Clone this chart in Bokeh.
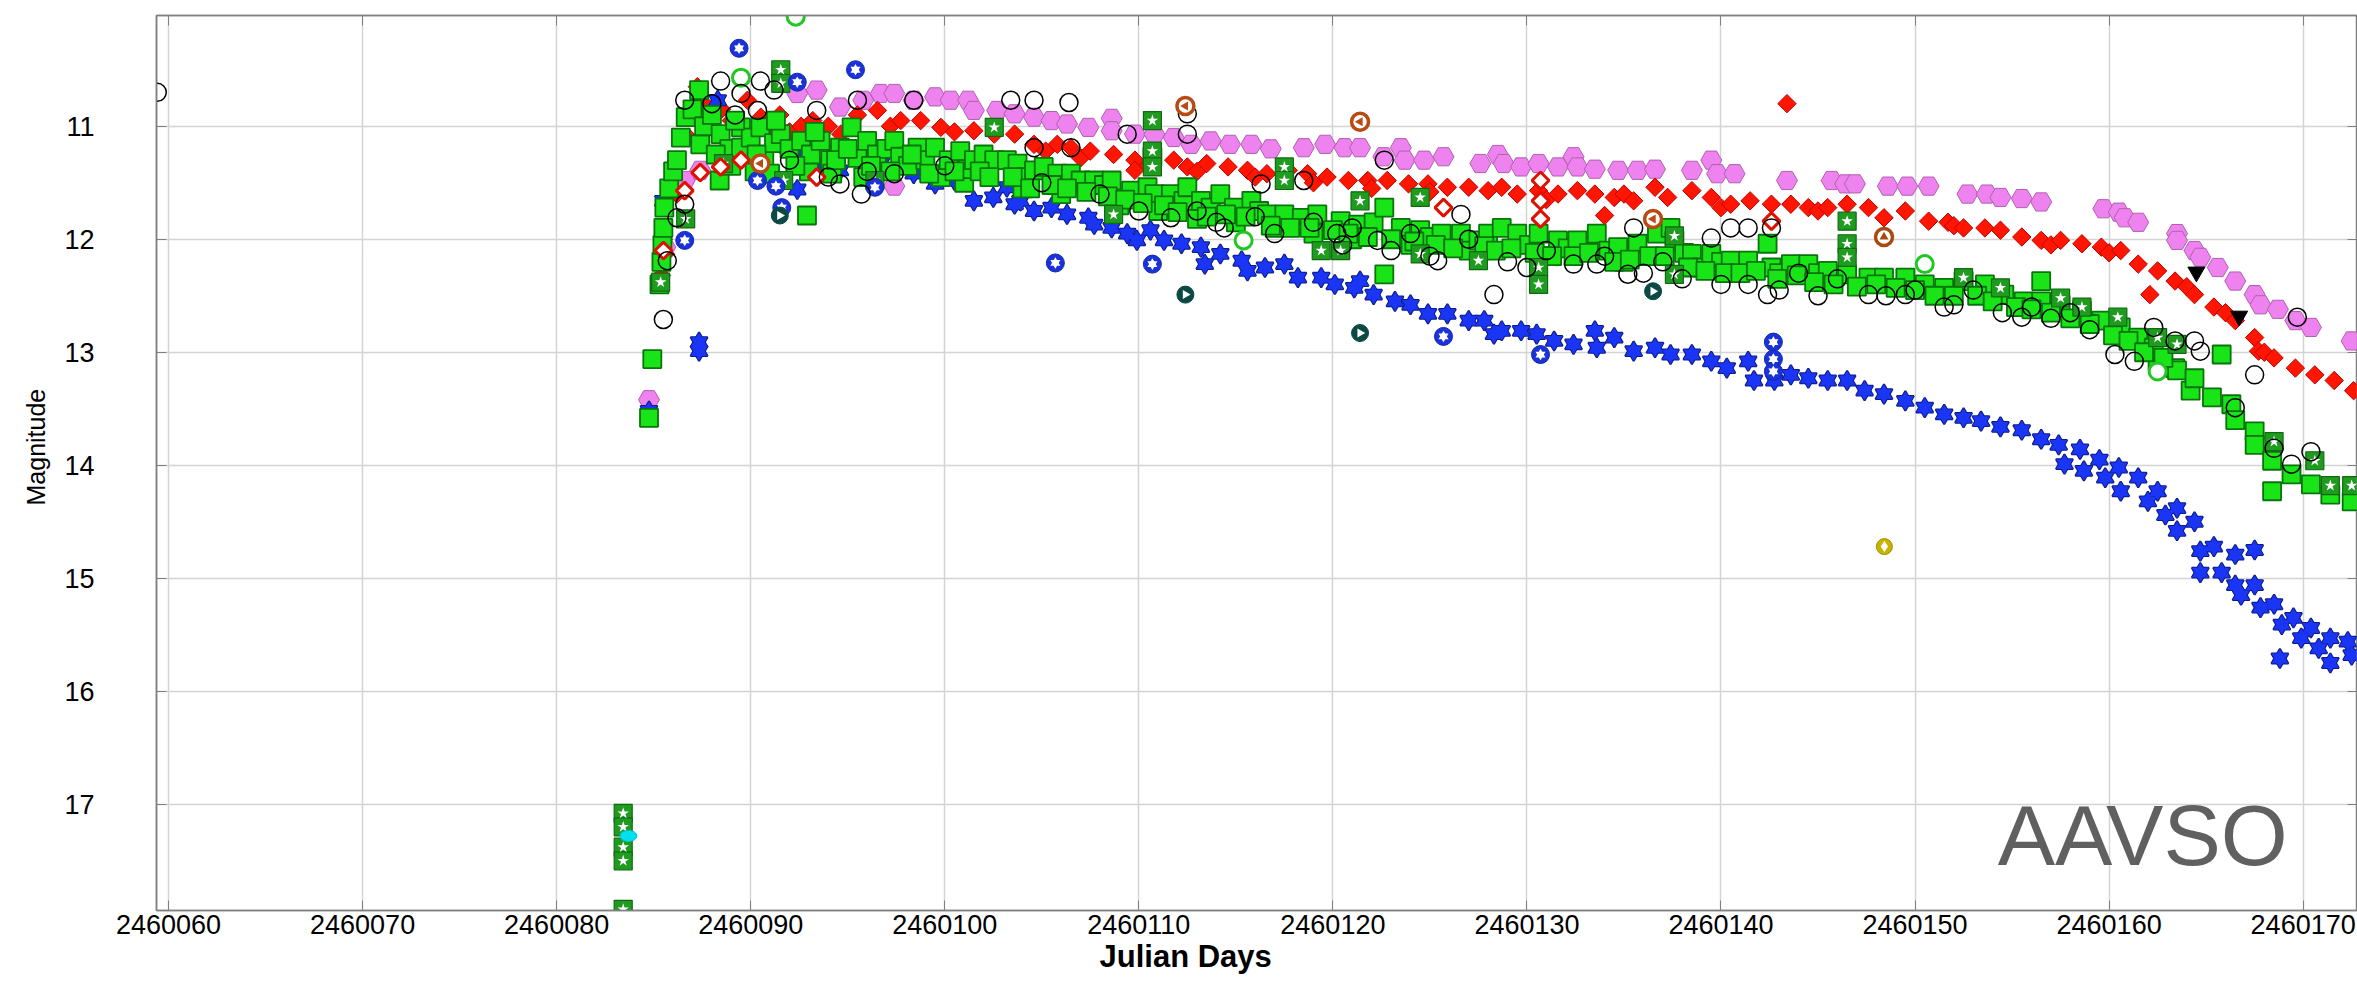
import math
from bokeh.plotting import figure
from bokeh.models import (Range1d, SingleIntervalTicker, LinearAxis, BasicTickFormatter,
                          Label, Title)
from bokeh.embed import file_html
from bokeh.resources import INLINE

JD_BASE = 2460000

# ---- observations: day offsets from JD_BASE and magnitudes, one pair of lists per band ----
# V (filled lime squares)
v_day = [84.76, 84.93, 85.3, 85.4, 85.45, 85.5, 85.55, 85.8, 86.0, 86.2, 86.4, 86.65, 87.0, 87.34, 87.4, 87.6,
         88.0, 88.4, 88.45, 88.9, 89.0, 89.5, 89.5, 90.0, 90.2, 90.5, 90.7, 91.0, 91.2, 91.55, 92.0, 92.6, 92.9,
         93.0, 93.1, 93.6, 94.1, 94.2, 94.6, 95.2, 95.5, 95.8, 96.0, 96.5, 97.0, 97.4, 97.7, 98.1, 98.6, 99.0,
         99.5, 99.8, 100.2, 100.8, 101.0, 101.2, 101.5, 102.0, 102.55, 103.2, 103.75, 104.0, 104.2, 104.6, 105.1,
         105.8, 106.0, 106.5, 107.0, 107.7, 108.2, 108.6, 109.0, 109.6, 110.45, 110.7, 110.8, 111.0, 111.65,
         112.3, 112.5, 113.0, 113.2, 113.7, 114.2, 114.9, 115.0, 115.8, 116.2, 116.6, 117.0, 117.5, 118.4, 119.0,
         119.2, 120.4, 121.0, 121.3, 122.1, 122.65, 122.65, 123.5, 124.0, 124.5, 125.0, 125.6, 126.6, 127.0,
         127.5, 128.0, 128.7, 129.5, 130.1, 130.6, 131.0, 131.6, 132.1, 132.6, 133.6, 134.2, 134.7, 135.0, 135.7,
         136.7, 137.4, 137.6, 138.1, 138.5, 139.0, 139.5, 140.0, 140.5, 141.4, 142.4, 142.6, 143.0, 143.6, 144.5,
         145.0, 145.5, 146.5, 147.6, 148.4, 149.5, 150.5, 151.5, 152.5, 153.6, 154.6, 155.6, 156.5, 156.5, 157.5,
         158.6, 159.6, 160.6, 161.5, 162.3, 162.5, 163.4, 163.5, 164.2, 164.4, 165.3, 165.8, 166.3, 166.5, 167.5,
         167.5, 168.4, 168.4, 169.4, 170.4, 171.4, 172.5,
         88.2, 89.2, 90.3, 91.3, 92.3, 93.3, 94.4, 95.0, 96.2, 97.2, 98.3, 99.2, 100.5, 101.8, 102.3, 103.5, 104.4,
         105.5, 106.3, 107.3, 108.4, 109.3, 110.2, 111.3, 112.0, 113.5, 114.5, 115.5, 116.8, 117.8, 118.8, 120.0,
         120.8, 121.8, 123.0, 124.2, 125.3, 126.2, 127.8, 128.4, 129.2, 130.4, 131.3, 132.4, 133.2, 134.5, 135.3,
         136.3, 137.1, 138.3, 139.2, 140.2, 141.0, 141.8, 142.9, 143.9, 144.8, 145.8, 147.0, 148.0, 149.0, 150.0,
         151.0, 152.0, 153.2, 154.0, 155.2, 156.0, 157.0, 158.0, 159.0, 160.2, 161.0, 161.8, 162.8]
v_mag = [13.58, 13.06, 12.4, 12.2, 12.05, 11.9, 11.72, 11.55, 11.4, 11.3, 11.1, 10.92, 10.85, 10.68, 11.16, 11.0,
         10.9, 11.48, 11.07, 11.2, 11.35, 11.01, 11.19, 11.1, 11.4, 11.01, 11.3, 11.42, 11.15, 11.07, 11.2, 11.13,
         11.79, 11.4, 11.25, 11.13, 11.3, 11.42, 11.19, 11.01, 11.28, 11.45, 11.13, 11.25, 11.2, 11.13, 11.27,
         11.35, 11.19, 11.3, 11.19, 11.45, 11.3, 11.22, 11.5, 11.38, 11.3, 11.25, 11.3, 11.3, 11.33, 11.55, 11.45,
         11.39, 11.36, 11.42, 11.6, 11.42, 11.48, 11.48, 11.52, 11.48, 11.7, 11.57, 11.54, 11.27, 11.6, 11.75,
         11.6, 11.66, 11.54, 11.82, 11.66, 11.72, 11.6, 11.72, 11.85, 11.66, 11.75, 11.78, 11.9, 11.78, 11.81,
         11.95, 11.78, 11.84, 12.0, 11.87, 11.85, 11.72, 12.31, 11.9, 12.05, 11.92, 11.98, 11.95, 11.95, 12.1,
         12.01, 11.95, 11.9, 11.95, 12.05, 11.95, 12.15, 12.01, 12.08, 12.01, 11.95, 12.1, 12.07, 12.2, 12.04,
         11.95, 11.9, 12.01, 12.12, 12.13, 12.25, 12.13, 12.2, 12.19, 12.19, 12.04, 12.25, 12.3, 12.22, 12.22,
         12.3, 12.28, 12.31, 12.34, 12.34, 12.34, 12.4, 12.43, 12.37, 12.4, 12.49, 12.55, 12.37, 12.55, 12.58,
         12.63, 12.72, 12.78, 12.87, 12.96, 13.08, 13.14, 13.16, 13.34, 13.23, 13.4, 13.02, 13.46, 13.6, 13.7,
         13.82, 13.96, 14.23, 14.08, 14.17, 14.26, 14.32,
         11.25, 10.95, 11.25, 10.95, 11.35, 11.05, 11.3, 11.2, 11.35, 11.4, 11.25, 11.42, 11.4, 11.4, 11.45, 11.45,
         11.55, 11.52, 11.55, 11.58, 11.62, 11.65, 11.68, 11.7, 11.76, 11.8, 11.78, 11.8, 11.88, 11.9, 11.9, 11.92,
         11.95, 11.98, 12.0, 12.02, 12.05, 12.08, 12.06, 12.1, 12.08, 12.12, 12.15, 12.15, 12.12, 12.2, 12.18,
         12.15, 12.15, 12.25, 12.28, 12.3, 12.3, 12.28, 12.35, 12.32, 12.38, 12.4, 12.42, 12.4, 12.43, 12.45,
         12.5, 12.5, 12.5, 12.55, 12.6, 12.62, 12.65, 12.7, 12.75, 12.85, 12.9, 13.0, 13.05]

# TG (dark green squares with a white star)
tg_day = [83.43, 83.43, 83.43, 83.43, 83.43, 85.36, 86.65, 88.6, 91.55, 91.55, 91.7, 96.4, 102.55, 108.7, 110.7,
          110.7, 110.7, 117.5, 117.5, 119.4, 120.4, 121.4, 124.5, 124.5, 127.5, 130.6, 130.6, 137.6, 137.6, 146.5,
          146.5, 146.5, 152.5, 154.4, 157.5, 158.6, 160.45, 162.5, 163.5, 168.5, 170.6, 171.4, 172.5]
tg_mag = [17.08, 17.2, 17.38, 17.5, 17.93, 12.38, 11.82, 11.33, 10.5, 10.62, 11.48, 11.48, 11.01, 11.78, 10.95,
          11.22, 11.36, 11.36, 11.48, 12.1, 12.1, 11.66, 11.63, 12.13, 12.19, 12.25, 12.4, 11.97, 12.31, 11.84,
          12.04, 12.16, 12.34, 12.43, 12.52, 12.6, 12.69, 12.87, 12.93, 13.79, 13.96, 14.18, 14.18]

# Vis (open black circles)
vis_day = [59.42, 85.5, 85.7, 86.2, 86.6, 86.6, 88.0, 88.45, 89.2, 89.5, 90.35, 90.5, 91.2, 92.0, 93.4, 94.0,
           94.6, 95.5, 95.7, 96.0, 97.4, 98.4, 100.0, 103.4, 104.6, 104.6, 105.0, 106.4, 106.5, 108.0, 109.4,
           111.65, 112.5, 112.5, 113.0, 114.4, 116.0, 116.3, 118.5, 119.0, 120.2, 121.0, 122.3, 122.65, 124.0,
           125.4, 126.6, 127.0, 128.3, 131.0, 132.4, 133.6, 134.0, 135.2, 135.5, 137.0, 139.5, 140.5, 141.4,
           141.4, 142.4, 142.6, 144.0, 146.0, 147.6, 149.5, 150.0, 151.5, 153.0, 155.5, 156.0, 158.0, 160.3,
           161.3, 162.3, 163.4, 164.4, 164.7, 166.5, 167.5, 168.5, 169.4, 169.7, 170.4,
           110.0, 114.0, 117.0, 120.5, 123.0, 125.0, 129.0, 130.0, 136.0, 138.0, 140.0, 143.0, 145.0, 148.5,
           152.0, 154.5, 157.0, 159.0]
vis_mag = [10.70, 12.71, 12.19, 11.81, 11.69, 10.77, 10.8, 10.6, 10.9, 10.71, 10.86, 10.6, 10.68, 11.3, 10.86,
           11.45, 11.51, 10.77, 11.6, 11.4, 11.42, 10.77, 11.35, 10.77, 10.77, 11.19, 11.5, 10.79, 11.19, 11.6,
           11.07, 11.81, 10.89, 11.07, 11.75, 11.9, 11.8, 11.51, 11.48, 11.85, 11.95, 11.9, 12.01, 11.3, 11.95,
           12.19, 11.78, 12.0, 12.49, 12.1, 12.22, 12.22, 12.15, 12.31, 11.9, 12.2, 11.99, 11.9, 11.9, 12.4,
           12.49, 11.9, 12.3, 12.35, 12.49, 12.49, 12.45, 12.6, 12.45, 12.69, 12.6, 12.65, 13.02, 13.08, 12.78,
           12.9, 12.9, 12.99, 13.49, 13.2, 13.85, 13.99, 12.69, 13.88,
           11.75, 11.85, 11.95, 12.05, 12.1, 12.15, 12.2, 12.25, 12.3, 12.35, 12.4, 12.45, 12.5, 12.5,
           12.58, 12.65, 12.7, 12.8]

# I (violet hexagons)
i_day = [84.76, 85.6, 86.6, 87.4, 92.4, 93.4, 94.6, 95.8, 96.7, 97.4, 97.4, 98.4, 99.5, 100.3, 101.2, 101.5,
         102.7, 103.6, 104.6, 105.5, 106.3, 107.4, 108.6, 108.6, 109.8, 110.8, 111.8, 112.7, 113.7, 114.7, 115.8,
         116.8, 118.5, 119.6, 120.6, 121.4, 122.6, 123.5, 123.7, 124.7, 125.7, 127.6, 128.5, 128.8, 129.7, 130.6,
         131.6, 132.4, 132.6, 133.5, 134.7, 135.7, 136.6, 138.5, 139.5, 139.8, 140.7, 143.4, 145.7, 146.4, 146.9,
         148.6, 149.6, 150.7, 152.7, 153.7, 154.4, 155.5, 156.5, 159.7, 160.5, 160.8, 161.5, 163.5, 163.5, 164.4,
         164.7, 165.6, 166.5, 167.5, 167.8, 168.7, 169.6, 170.4, 172.5]
i_mag = [13.42, 12.07, 11.48, 11.39, 10.71, 10.68, 10.83, 10.77, 10.71, 10.71, 11.53, 10.77, 10.74, 10.77, 10.77,
         10.86, 10.86, 10.89, 10.92, 10.95, 10.98, 11.01, 10.93, 11.04, 11.07, 11.07, 11.1, 11.16, 11.13, 11.16,
         11.16, 11.2, 11.19, 11.16, 11.19, 11.19, 11.27, 11.19, 11.3, 11.3, 11.27, 11.33, 11.25, 11.33, 11.36,
         11.33, 11.36, 11.27, 11.36, 11.38, 11.39, 11.39, 11.38, 11.39, 11.3, 11.42, 11.42, 11.48, 11.48, 11.51,
         11.51, 11.53, 11.53, 11.53, 11.6, 11.6, 11.63, 11.64, 11.67, 11.73, 11.76, 11.81, 11.85, 11.95, 12.01,
         12.1, 12.16, 12.25, 12.37, 12.49, 12.58, 12.62, 12.72, 12.78, 12.9]

# R (filled red diamonds)
r_day = [85.4, 85.5, 85.6, 86.2, 86.8, 87.25, 87.6, 88.0, 88.5, 89.0, 89.83, 90.52, 91.0, 91.5, 92.0, 92.6, 93.2,
         94.0, 94.64, 95.5, 96.53, 97.2, 97.73, 98.76, 99.8, 100.5, 101.5, 102.55, 103.6, 104.6, 105.2, 105.8,
         106.5, 107.0, 107.5, 108.7, 109.8, 109.8, 110.5, 111.8, 112.5, 113.0, 113.5, 114.6, 115.6, 116.0, 116.6,
         117.7, 118.7, 119.0, 119.7, 120.8, 121.8, 122.0, 122.8, 123.9, 124.9, 125.0, 125.9, 127.0, 128.0, 128.7,
         129.5, 130.6, 131.0, 131.6, 132.6, 133.5, 134.0, 134.5, 135.0, 135.5, 136.6, 137.25, 138.5, 139.5,
         140.0, 140.5, 141.5, 142.6, 143.4, 143.6, 144.5, 145.0, 145.5, 146.5, 147.6, 148.4, 149.5, 150.7, 151.7,
         152.0, 152.5, 153.6, 154.4, 155.5, 156.5, 157.0, 157.5, 158.6, 159.6, 160.0, 160.6, 161.5, 162.1, 162.5,
         163.4, 164.0, 164.4, 165.4, 166.0, 166.5, 167.5, 167.7, 168.0, 168.5, 169.6, 170.6, 171.6, 172.6]
r_mag = [12.32, 12.0, 12.13, 11.6, 11.1, 10.65, 10.8, 10.9, 10.85, 10.95, 10.77, 10.92, 11.0, 10.9, 11.05, 11.0,
         10.95, 11.0, 11.07, 10.9, 10.86, 11.0, 10.95, 10.95, 11.01, 11.05, 11.04, 11.07, 11.07, 11.16, 11.22,
         11.16, 11.19, 11.28, 11.22, 11.25, 11.3, 11.39, 11.35, 11.3, 11.36, 11.4, 11.33, 11.36, 11.39, 11.45,
         11.42, 11.39, 11.42, 11.5, 11.45, 11.48, 11.48, 11.55, 11.48, 11.51, 11.51, 11.58, 11.54, 11.54, 11.57,
         11.54, 11.6, 11.57, 11.65, 11.6, 11.57, 11.6, 11.79, 11.63, 11.6, 11.66, 11.54, 11.63, 11.57, 11.63,
         11.72, 11.69, 11.66, 11.69, 10.8, 11.69, 11.72, 11.75, 11.72, 11.69, 11.72, 11.81, 11.75, 11.84, 11.85,
         11.88, 11.9, 11.9, 11.92, 11.98, 12.01, 12.05, 12.01, 12.04, 12.07, 12.12, 12.1, 12.22, 12.49, 12.28,
         12.37, 12.42, 12.49, 12.6, 12.65, 12.72, 12.87, 12.99, 13.0, 13.05, 13.14, 13.2, 13.25, 13.34]

# TR (open red diamonds)
tr_day = [85.5, 86.6, 87.4, 88.45, 89.5, 93.4, 125.7, 130.7, 130.7, 130.7, 142.6]
tr_mag = [12.1, 11.57, 11.41, 11.36, 11.3, 11.45, 11.72, 11.48, 11.66, 11.82, 11.84]

# B (blue six-pointed stars)
b_day = [84.76, 85.5, 87.34, 87.34, 88.3, 89.8, 90.5, 91.5, 92.4, 92.6, 93.5, 94.6, 95.7, 96.7, 97.7, 98.4, 99.5,
         100.5, 101.5, 102.5, 103.2, 103.6, 103.9, 104.6, 105.5, 106.3, 107.4, 107.7, 108.6, 109.4, 109.9, 110.6,
         111.3, 112.2, 113.2, 113.4, 114.2, 115.3, 115.6, 116.5, 117.5, 118.2, 119.4, 120.1, 121.1, 121.4, 122.1,
         123.2, 124.0, 124.9, 125.9, 127.0, 127.8, 128.3, 128.7, 129.7, 130.5, 131.4, 132.4, 133.5, 133.6, 134.5,
         135.5, 136.6, 137.4, 138.5, 139.5, 140.3, 141.4, 141.7, 142.75, 143.6, 144.5, 145.5, 146.5, 147.4, 148.4,
         149.5, 150.5, 151.5, 152.5, 153.4, 154.4, 155.5, 156.5, 157.4, 157.7, 158.5, 158.7, 159.5, 159.8, 160.5,
         160.6, 161.5, 162.0, 162.5, 162.9, 163.5, 163.5, 164.4, 164.7, 164.7, 165.4, 165.8, 166.5, 166.5, 166.8,
         167.5, 167.5, 167.8, 168.5, 168.8, 168.9, 169.5, 169.9, 170.4, 170.8, 171.4, 171.4, 172.3, 172.5]
b_mag = [13.52, 11.66, 12.91, 12.99, 10.77, 11.19, 11.3, 11.15, 11.56, 11.27, 11.35, 11.39, 11.25, 11.33, 11.3,
         11.42, 11.51, 11.48, 11.66, 11.63, 11.54, 11.69, 11.66, 11.75, 11.72, 11.78, 11.81, 11.87, 11.9, 11.95,
         12.01, 11.92, 12.01, 12.04, 12.07, 12.22, 12.13, 12.19, 12.28, 12.25, 12.22, 12.34, 12.34, 12.4, 12.43,
         12.37, 12.49, 12.55, 12.58, 12.66, 12.66, 12.72, 12.72, 12.84, 12.81, 12.81, 12.84, 12.9, 12.93, 12.81,
         12.96, 12.87, 12.99, 12.96, 13.02, 13.02, 13.08, 13.14, 13.08, 13.25, 13.25, 13.2, 13.23, 13.25, 13.25,
         13.34, 13.37, 13.43, 13.49, 13.55, 13.58, 13.61, 13.66, 13.69, 13.77, 13.82, 13.99, 13.86, 14.05, 13.95,
         14.11, 14.02, 14.23, 14.11, 14.32, 14.23, 14.44, 14.38, 14.58, 14.5, 14.76, 14.95, 14.72, 14.95, 14.79,
         15.06, 15.15, 14.75, 15.06, 15.26, 15.23, 15.71, 15.41, 15.35, 15.53, 15.44, 15.62, 15.53, 15.75, 15.56,
         15.68]

# TB (blue circles with a white star)
tb_day = [86.6, 89.4, 90.35, 91.3, 91.6, 92.4, 95.4, 96.4, 105.7, 110.7, 125.7, 130.7, 142.7, 142.7, 142.7]
tb_mag = [12.01, 10.31, 11.48, 11.53, 11.72, 10.61, 10.5, 11.54, 12.21, 12.22, 12.86, 13.02, 12.91, 13.06, 13.17]

# CV (open green circles)
cv_day = [89.5, 92.32, 115.4, 150.5, 162.5]
cv_mag = [10.57, 10.03, 12.01, 12.22, 13.17]

# CR (brown rings with a left-pointing triangle)
cr_day = [90.5, 112.4, 121.4, 136.5]
cr_mag = [11.33, 10.82, 10.96, 11.82]

# CBB (brown ring with an upward triangle)
cbb_day = [148.4]
cbb_mag = [11.98]

# SG (dark teal discs with a right-pointing triangle)
sg_day = [91.5, 112.4, 121.4, 136.5]
sg_mag = [11.79, 12.49, 12.83, 12.46]

# fainter-than estimates (black down triangles)
ft_day = [164.5, 166.7]
ft_mag = [12.29, 12.68]

# single points in other bands
tg_cyan_day = [83.7]
tg_cyan_mag = [17.28]
ha_day = [148.42]
ha_mag = [14.72]


def jd(days):
    return [JD_BASE + d for d in days]


p = figure(width=2357, height=984, output_backend="svg", toolbar_location=None,
           x_range=Range1d(2460059.38, 2460172.8), y_range=Range1d(17.94, 10.02),
           min_border_left=156, min_border_right=0, min_border_top=15, min_border_bottom=74,
           background_fill_color="white", border_fill_color="white")

xt = SingleIntervalTicker(interval=10, num_minor_ticks=0)
yt = SingleIntervalTicker(interval=1, num_minor_ticks=0)
TICK_FONT = "'Liberation Sans', Arial, Helvetica, sans-serif"

p.xaxis.ticker = xt
p.yaxis.ticker = yt
p.xaxis.formatter = BasicTickFormatter(use_scientific=False)
p.xgrid.ticker = xt
p.ygrid.ticker = yt
for g in (p.xgrid, p.ygrid):
    g.grid_line_color = "#d4d4d4"
    g.grid_line_width = 1.5

for ax in (p.xaxis[0], p.yaxis[0]):
    ax.axis_line_color = "#808080"
    ax.axis_line_width = 1.5
    ax.major_tick_in = 10
    ax.major_tick_out = 0
    ax.major_tick_line_color = "#808080"
    ax.minor_tick_line_color = None
    ax.major_label_text_font = TICK_FONT
    ax.major_label_text_font_size = "27px"
    ax.major_label_text_color = "black"

p.xaxis.major_label_standoff = 4
p.yaxis.major_label_standoff = 62

# axes on the top and right carry only the inward ticks
for loc in ("above", "right"):
    ax = LinearAxis(ticker=xt if loc == "above" else yt, major_label_text_color=None,
                    major_label_standoff=0, major_tick_in=10, major_tick_out=0,
                    major_tick_line_color="#808080", minor_tick_line_color=None,
                    axis_line_color="#808080", axis_line_width=1.5)
    p.add_layout(ax, loc)

# axis titles placed as panel titles so they can sit off-centre
xlabel = Title(text="Julian Days", align="left", offset=943, text_font=TICK_FONT,
               text_font_size="31px", text_font_style="bold", text_color="black", standoff=0)
p.add_layout(xlabel, "below")
ylabel = Title(text="Magnitude", align="left", offset=405, text_font=TICK_FONT,
               text_font_size="25px", text_font_style="normal", text_color="black", standoff=23)
p.add_layout(ylabel, "left")

p.outline_line_color = "#808080"
p.outline_line_width = 1.5


def hexagram(x, y, size, fill, line=None):
    """Six-pointed star made from two opposed triangles."""
    if line is not None:
        for m in ("triangle", "inverted_triangle"):
            p.scatter(x, y, marker=m, size=size, fill_color=fill, line_color=line, line_width=2)
    for m in ("triangle", "inverted_triangle"):
        p.scatter(x, y, marker=m, size=size, fill_color=fill, line_color=None)


# I band
p.scatter(jd(i_day), i_mag, marker="hex", size=21, fill_color="#ee82ee", line_color="#b060b0", line_width=1)
# R band
p.scatter(jd(r_day), r_mag, marker="square", angle=math.pi / 4, size=13, fill_color="#ff1500",
          line_color="#c00000", line_width=1)
# B band
hexagram(jd(b_day), b_mag, 17, "#1a35f5", "#0b1a80")
# V band
p.scatter(jd(v_day), v_mag, marker="square", size=18, fill_color="#18e418", line_color="#0b730b", line_width=1.8)
# TG
p.scatter(jd(tg_day), tg_mag, marker="square", size=18, fill_color="#1f9c1f", line_color="#0f6a0f", line_width=1.2)
p.scatter(jd(tg_day), tg_mag, marker="star", size=12, fill_color="white", line_color=None)
# TR
p.scatter(jd(tr_day), tr_mag, marker="square", angle=math.pi / 4, size=12, fill_color="white",
          line_color="#e01000", line_width=3)
# TB
p.scatter(jd(tb_day), tb_mag, marker="circle", size=18, fill_color="#1a32d8", line_color="#1228b0", line_width=1)
hexagram(jd(tb_day), tb_mag, 10, "white")
# CV
p.scatter(jd(cv_day), cv_mag, marker="circle", size=17, fill_color="white", line_color="#22c822", line_width=3)
# Vis
p.scatter(jd(vis_day), vis_mag, marker="circle", size=18, fill_color=None, line_color="black", line_width=1.5)
# CR / CBB
p.scatter(jd(cr_day), cr_mag, marker="circle", size=17, fill_color="white", line_color="#b84a12", line_width=3.5)
p.scatter(jd(cr_day), cr_mag, marker="triangle", angle=math.pi / 2, size=9, fill_color="#b84a12", line_color=None)
p.scatter(jd(cbb_day), cbb_mag, marker="circle", size=17, fill_color="white", line_color="#a84a12", line_width=3.5)
p.scatter(jd(cbb_day), cbb_mag, marker="triangle", size=9, fill_color="#a84a12", line_color=None)
# SG
p.scatter(jd(sg_day), sg_mag, marker="circle", size=17, fill_color="#0b4a44", line_color="#0b4a44", line_width=1)
p.scatter(jd(sg_day), sg_mag, marker="triangle", angle=-math.pi / 2, size=9, fill_color="white", line_color=None)
# fainter-than
p.scatter(jd(ft_day), ft_mag, marker="inverted_triangle", size=17, fill_color="black", line_color="black")
# single points
p.ellipse(jd(tg_cyan_day), tg_cyan_mag, width=17, height=11, width_units="screen", height_units="screen",
          fill_color="#00e0ee", line_color="#00c4d4")
p.scatter(jd(ha_day), ha_mag, marker="circle", size=16, fill_color="#c8b400", line_color="#a09000", line_width=1)
p.scatter(jd(ha_day), ha_mag, marker="diamond", size=11, fill_color="white", line_color=None)

p.add_layout(Label(x=2460169.2, y=17.27, text="AAVSO", text_align="right", text_baseline="alphabetic",
                   text_font="'Liberation Sans Narrow', 'Arial Narrow', 'Liberation Sans', sans-serif",
                   text_font_size="86px", text_color="#606060"))

open("out.html", "w").write(file_html(p, INLINE))
